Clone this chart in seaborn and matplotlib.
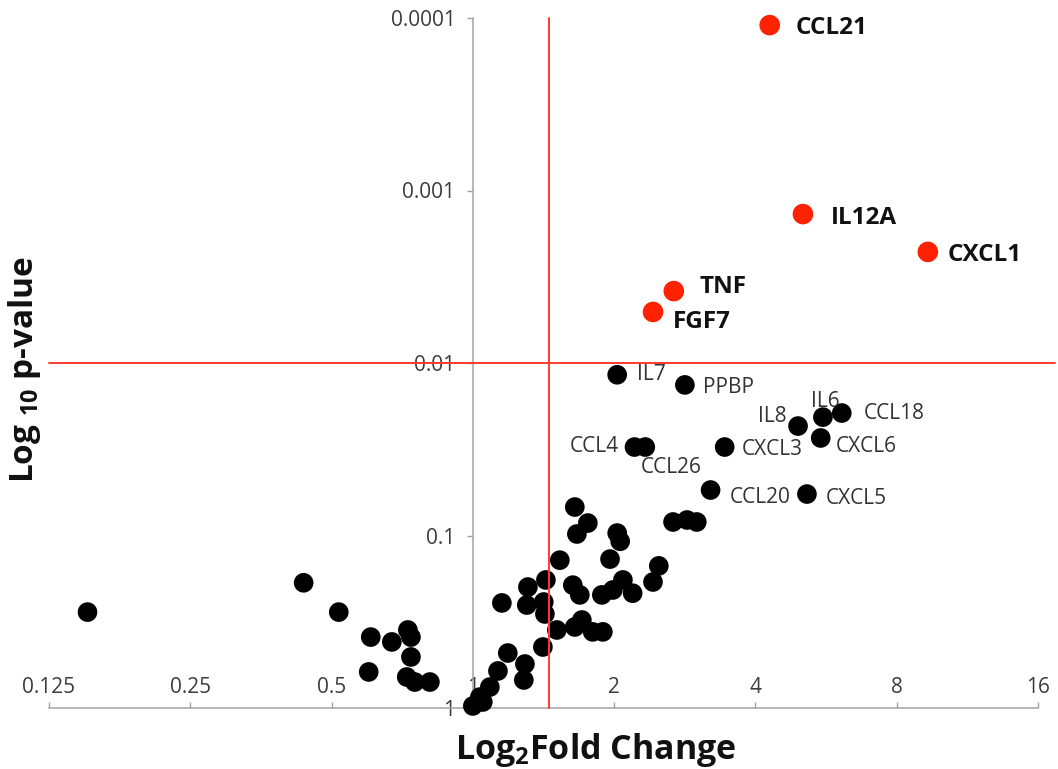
import numpy as np
import pandas as pd
import matplotlib
matplotlib.use("Agg")
import matplotlib.pyplot as plt
import seaborn as sns
from matplotlib.ticker import FixedLocator, FixedFormatter, NullLocator

# ---------------- data ----------------
sig_genes = ["CCL21", "IL12A", "CXCL1", "TNF", "FGF7"]
sig_fold = [4.29, 5.05, 9.32, 2.68, 2.42]
sig_p = [1.10e-4, 1.37e-3, 2.27e-3, 3.83e-3, 5.06e-3]

lab_genes = ["IL7", "PPBP", "IL8", "IL6", "CCL18", "CXCL6", "CCL4", "CCL26",
             "CXCL3", "CCL20", "CXCL5"]
lab_fold = [2.03, 2.83, 4.93, 5.57, 6.11, 5.51, 2.21, 2.33, 3.44, 3.21, 5.15]
lab_p = [0.0117, 0.0134, 0.0232, 0.0206, 0.0195, 0.0272, 0.0307, 0.0307,
         0.0307, 0.0545, 0.0575]

other_fold = [0.151, 0.436, 0.518, 0.606, 0.672, 0.727, 0.738, 0.738, 0.600,
              0.723, 0.752, 0.810, 1.00, 1.05, 1.035, 1.087, 1.131, 1.187,
              1.291, 1.284, 1.153, 1.303, 1.310, 1.416, 1.431, 1.424, 1.410,
              1.510, 1.532, 1.649, 1.758, 1.666, 2.03, 2.06, 1.96, 2.49, 2.42,
              1.633, 1.690, 1.883, 1.987, 2.088, 2.19, 1.707, 1.649, 1.80,
              1.892, 2.67, 2.86, 3.00]
other_p = [0.278, 0.188, 0.278, 0.388, 0.414, 0.353, 0.388, 0.506, 0.618,
           0.661, 0.707, 0.707, 0.973, 0.923, 0.864, 0.756, 0.61, 0.48,
           0.556, 0.688, 0.246, 0.253, 0.199, 0.243, 0.181, 0.285, 0.443,
           0.353, 0.139, 0.0684, 0.0847, 0.098, 0.0968, 0.108, 0.137, 0.150,
           0.186, 0.194, 0.221, 0.221, 0.207, 0.181, 0.216, 0.309, 0.339,
           0.362, 0.362, 0.0835, 0.0813, 0.0835]

x_ticks = [0.125, 0.25, 0.5, 1, 2, 4, 8, 16]
x_tick_labels = ["0.125", "0.25", "0.5", "1", "2", "4", "8", "16"]
y_ticks = [1e-4, 1e-3, 1e-2, 1e-1, 1]
y_tick_labels = ["0.0001", "0.001", "0.01", "0.1", "1"]

fold_cutoff = 1.45
p_cutoff = 0.01

# label offsets in points (dx, dy, ha)
lab_offsets = {
    "IL7": (14, 0, "left"), "PPBP": (13, -1.5, "left"), "IL8": (-8, 7, "right"),
    "IL6": (1.5, 11, "center"), "CCL18": (16, 0, "left"), "CXCL6": (11, -6.5, "left"),
    "CCL4": (-11, 0.5, "right"), "CCL26": (-3, -15, "left"), "CXCL3": (12, -2, "left"),
    "CCL20": (13.5, -5.5, "left"), "CXCL5": (13.5, -3, "left"),
}
sig_offsets = {
    "CCL21": (19, -2), "IL12A": (20, -3), "CXCL1": (14, -2),
    "TNF": (18.5, 3), "FGF7": (14, -7),
}

# ---------------- style ----------------
sns.set_theme(style="white")
plt.rcParams["font.family"] = ["Open Sans", "DejaVu Sans"]
plt.rcParams["mathtext.fontset"] = "custom"
plt.rcParams["mathtext.rm"] = "Open Sans"
plt.rcParams["mathtext.bf"] = "Open Sans:bold"
plt.rcParams["mathtext.it"] = "Open Sans:italic"

fig = plt.figure(figsize=(10.58, 7.69), dpi=100)
ax = fig.add_axes([49 / 1058, 61 / 769, 989 / 1058, 690 / 769])

df_other = pd.DataFrame({"fold": other_fold, "p": other_p})
df_lab = pd.DataFrame({"gene": lab_genes, "fold": lab_fold, "p": lab_p})
df_sig = pd.DataFrame({"gene": sig_genes, "fold": sig_fold, "p": sig_p})

black = "#000000"
red_dot = "#ff2200"
red_line = "#ff3b30"

sns.scatterplot(data=df_other, x="fold", y="p", color=black, s=200,
                edgecolor="none", ax=ax, legend=False, zorder=3, clip_on=False)
sns.scatterplot(data=df_lab, x="fold", y="p", color=black, s=200,
                edgecolor="none", ax=ax, legend=False, zorder=3, clip_on=False)
sns.scatterplot(data=df_sig, x="fold", y="p", color=red_dot, s=220,
                edgecolor="none", ax=ax, legend=False, zorder=3, clip_on=False)

ax.set_xscale("log", base=2)
ax.set_yscale("log")
ax.set_xlim(0.125, 16)
ax.set_ylim(1, 1e-4)

# threshold lines
ax.plot([fold_cutoff, fold_cutoff], [1, 1e-4], color=red_line, lw=1.4,
        zorder=4, clip_on=False)
ax.plot([0.125, 17.4], [p_cutoff, p_cutoff], color=red_line, lw=1.4,
        zorder=4, clip_on=False)

# axes / spines
for s in ["top", "right"]:
    ax.spines[s].set_visible(False)
ax.spines["left"].set_position(("data", 1))
for s in ["left", "bottom"]:
    ax.spines[s].set_color("#a3a3a3")
    ax.spines[s].set_linewidth(1.1)
    ax.spines[s].set_zorder(1)

ax.xaxis.set_major_locator(FixedLocator(x_ticks))
ax.xaxis.set_major_formatter(FixedFormatter(x_tick_labels))
ax.xaxis.set_minor_locator(NullLocator())
ax.yaxis.set_major_locator(FixedLocator(y_ticks))
ax.yaxis.set_major_formatter(FixedFormatter(y_tick_labels))
ax.yaxis.set_minor_locator(NullLocator())

ax.tick_params(axis="x", direction="in", length=4.5, width=1.0, color="#a3a3a3",
               pad=-22.5, labelsize=15, labelcolor="#3c3c3c", bottom=True)
ax.tick_params(axis="y", direction="out", length=4.5, width=1.0, color="#a3a3a3",
               pad=8, labelsize=15, labelcolor="#3c3c3c", left=True)
ax.grid(False)

# gene labels
for g, x, y in zip(lab_genes, lab_fold, lab_p):
    dx, dy, ha = lab_offsets[g]
    ax.annotate(g, (x, y), xytext=(dx, dy), textcoords="offset points",
                ha=ha, va="center", fontsize=15, color="#333333", zorder=5)
for g, x, y in zip(sig_genes, sig_fold, sig_p):
    dx, dy = sig_offsets[g]
    ax.annotate(g, (x, y), xytext=(dx, dy), textcoords="offset points",
                ha="left", va="center", fontsize=17.5, fontweight="bold",
                color="#111111", zorder=5)

# axis labels
ax.set_xlabel(r"Log$_{\mathbf{2}}$Fold Change", fontsize=24.5, fontweight="bold",
              color="#111111")
ax.xaxis.set_label_coords(0.553, -0.034)
ax.set_ylabel(r"Log $_{\mathbf{10}}$ p-value", fontsize=24, fontweight="bold",
              color="#111111")
ax.yaxis.set_label_coords(-0.006, 0.49)

fig.savefig("out.png", dpi=100, facecolor="white")
